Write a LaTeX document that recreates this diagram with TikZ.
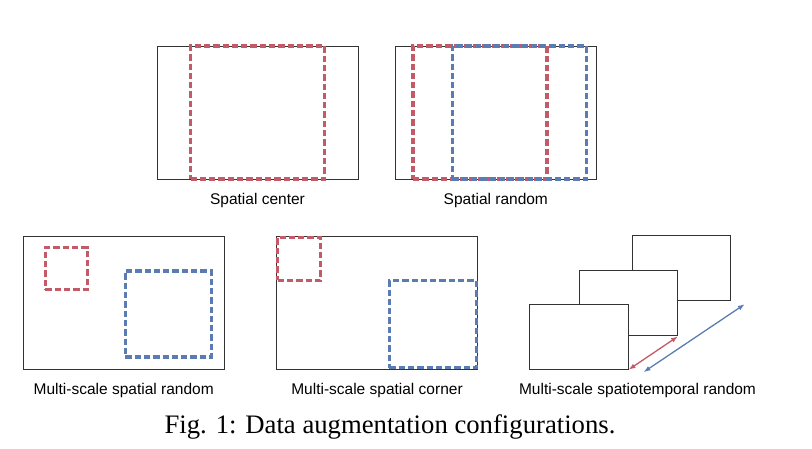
\documentclass[tikz,border=0pt]{standalone}
\usepackage{fontspec}
\usepackage{tikz}
\usetikzlibrary{positioning, arrows.meta}
\newfontfamily\labfont{Liberation Sans}
\newfontfamily\capfont{Liberation Serif}
\definecolor{cropred}{HTML}{C25B67}
\definecolor{cropblue}{HTML}{5A7CB2}
\definecolor{framegray}{HTML}{333333}

\begin{document}
\begin{tikzpicture}[x=1pt, y=-1pt, node distance=14pt]
			\tikzstyle{frame}=[rectangle, draw=framegray, line width=0.9pt, fill=white, inner sep=0pt, minimum width=201pt, minimum height=133pt]
			\tikzstyle{small frame}=[frame, minimum width=98.5pt, minimum height=65pt]
			\tikzstyle{crop}=[rectangle, line width=3.3pt, dash pattern=on 6.3pt off 3pt, inner sep=0pt]
			\tikzstyle{red crop}=[crop, draw=cropred]
			\tikzstyle{blue crop}=[crop, draw=cropblue]
			\tikzstyle{annot}=[inner sep=0pt, font=\labfont\fontsize{15.5}{18}\selectfont]
			\tikzstyle{jitter}=[<->, >={Latex[length=7pt, width=5pt]}, line width=1.3pt]

			\useasboundingbox (0,0) rectangle (812,448);

			% Draw the top row of frames
			\node[frame] (SC) at (257.5,112.5) {};
			\node[frame] (SR) at (495.8,112.5) {};

			% Draw the bottom row of frames
			\node[frame] (MR) at (123.7,302.5) {};
			\node[frame] (MC) at (377,302.5) {};

			% Draw the stacked frames, the back one first
			\foreach \name/\x/\y in {ST-3/681.3/268.4, ST-2/628.3/303.4, ST-1/578.8/336.8} {
				\node[small frame] (\name) at (\x,\y) {};
			}

			% Draw the crops on the top row
			\node[red crop, minimum width=134pt, minimum height=133pt] (SC-r) at (SC) {};
			\node[red crop, minimum width=134pt, minimum height=133pt] (SR-r) at (480,112.5) {};
			\node[blue crop, minimum width=134pt, minimum height=133pt] (SR-b) at (519.3,112.5) {};

			% Draw the crops on the bottom row
			\node[red crop, minimum size=42pt] (MR-r) at (66.3,268.5) {};
			\node[blue crop, minimum size=86pt] (MR-b) at (168.3,314) {};
			\node[red crop, minimum size=43pt, anchor=north west] (MC-r) at (MC.north west) {};
			\node[blue crop, minimum size=87pt, anchor=south east] (MC-b) at (MC.south east) {};

			% Arrows along the time axis
			\coordinate[xshift=15pt, yshift=-2.4pt] (T-0) at (ST-1.south east);
			\coordinate[xshift=13.8pt, yshift=-2.8pt] (T-1) at (ST-3.south east);
			\draw[jitter, cropred] (ST-1.south east) -- (ST-2.south east);
			\draw[jitter, cropblue] (T-0) -- (T-1);

			% Annotate the frames
			\node[annot, below=of SC] (SC-lab) {Spatial center};
			\node[annot, below=of SR] (SR-lab) {Spatial random};
			\node[annot, below=of MR] (MR-lab) {Multi-scale spatial random};
			\node[annot, below=of MC] (MC-lab) {Multi-scale spatial corner};
			\node[annot, anchor=north] (ST-lab) at (637.5,383) {Multi-scale spatiotemporal random};

			% Caption
			\node[inner sep=0pt, font=\capfont\fontsize{26.7}{30}\selectfont] (cap) at (390,426.5) {Fig. 1: Data augmentation configurations.};
\end{tikzpicture}
\end{document}
